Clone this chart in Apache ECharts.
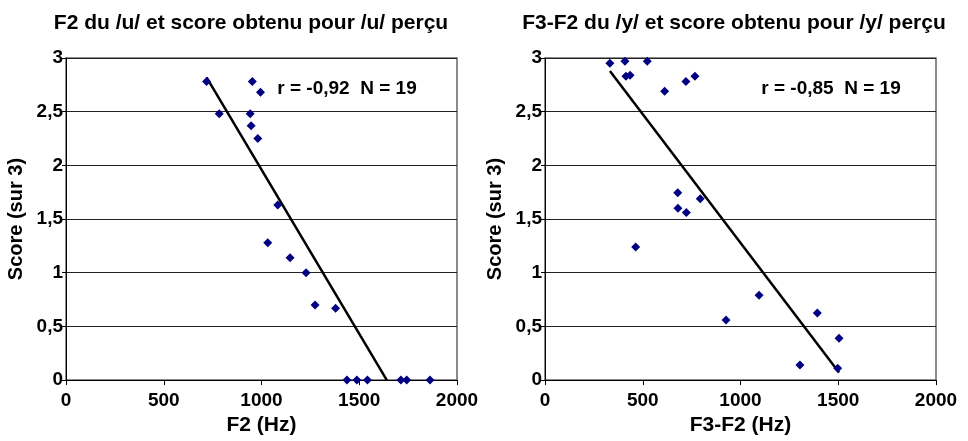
<!DOCTYPE html>
<html>
<head>
<meta charset="utf-8">
<script src="https://cdn.jsdelivr.net/npm/echarts@6/dist/echarts.min.js"></script>
<style>
html,body{margin:0;padding:0;background:#fff;}
#c{width:968px;height:441px;}
</style>
</head>
<body>
<div id="c"></div>
<script>
// Left chart: F2 of /u/ vs score
var f2Hz = [719, 784, 953, 995, 942, 947, 981, 1083, 1032, 1146, 1228, 1274, 1379, 1437, 1488, 1542, 1713, 1743, 1862];
var f2Score = [2.78, 2.48, 2.78, 2.68, 2.48, 2.37, 2.25, 1.63, 1.28, 1.14, 1.00, 0.70, 0.67, 0, 0, 0, 0, 0, 0];
var f2TrendX = [719, 1641];
var f2TrendY = [2.82, 0];

// Right chart: F3-F2 of /y/ vs score
var f32Hz = [332, 409, 523, 414, 435, 721, 767, 612, 679, 794, 680, 723, 464, 1095, 926, 1393, 1504, 1304, 1497];
var f32Score = [2.95, 2.97, 2.97, 2.83, 2.84, 2.78, 2.83, 2.69, 1.745, 1.69, 1.60, 1.56, 1.24, 0.79, 0.56, 0.625, 0.39, 0.14, 0.11];
var f32TrendX = [332, 1504];
var f32TrendY = [2.88, 0.07];

var titles = ['F2 du /u/ et score obtenu pour /u/ perçu', 'F3-F2 du /y/ et score obtenu pour /y/ perçu'];
var notes = ['r = -0,92  N = 19', 'r = -0,85  N = 19'];
var xNames = ['F2 (Hz)', 'F3-F2 (Hz)'];
var yName = 'Score (sur 3)';

function zip(a, b) { return a.map(function (v, i) { return [v, b[i]]; }); }

var FONT = '"Liberation Sans", Arial, sans-serif';
var grids = [
  {left: 66, top: 58, width: 391, height: 325},
  {left: 545, top: 58, width: 391, height: 325}
];

function mkX(i) {
  return {
    gridIndex: i, type: 'value', min: 0, max: 2000, interval: 500,
    name: xNames[i], nameLocation: 'middle', nameGap: 31,
    nameTextStyle: {fontFamily: FONT, fontWeight: 'bold', fontSize: 21, color: '#000'},
    axisLine: {show: true, lineStyle: {color: '#000', width: 1}},
    axisTick: {show: true, length: 5, lineStyle: {color: '#000'}},
    axisLabel: {margin: 11, fontFamily: FONT, fontWeight: 'bold', fontSize: 19, color: '#000',
      formatter: function (v) { return String(v); }},
    splitLine: {show: false}
  };
}
function mkY(i) {
  return {
    gridIndex: i, type: 'value', min: 0, max: 3, interval: 0.5,
    name: yName, nameLocation: 'middle', nameGap: 40,
    nameTextStyle: {fontFamily: FONT, fontWeight: 'bold', fontSize: 20, color: '#000'},
    axisLine: {show: true, lineStyle: {color: '#000', width: 1}},
    axisTick: {show: true, length: 4, lineStyle: {color: '#000'}},
    axisLabel: {margin: 3, fontFamily: FONT, fontWeight: 'bold', fontSize: 19, color: '#000',
      formatter: function (v) { return String(v).replace('.', ','); }},
    splitLine: {show: true, lineStyle: {color: '#222', width: 1}}
  };
}

var chart = echarts.init(document.getElementById('c'), null, {renderer: 'canvas'});
chart.setOption({
  animation: false,
  backgroundColor: '#fff',
  title: [
    {text: titles[0], left: 246, top: 8, textAlign: 'center',
      textStyle: {fontFamily: FONT, fontWeight: 'bold', fontSize: 21, color: '#000'}},
    {text: titles[1], left: 729, top: 8, textAlign: 'center',
      textStyle: {fontFamily: FONT, fontWeight: 'bold', fontSize: 21, color: '#000'}},
    {text: notes[0], left: 342, top: 74, textAlign: 'center',
      textStyle: {fontFamily: FONT, fontWeight: 'bold', fontSize: 19, color: '#000'}},
    {text: notes[1], left: 826, top: 74, textAlign: 'center',
      textStyle: {fontFamily: FONT, fontWeight: 'bold', fontSize: 19, color: '#000'}}
  ],
  grid: grids.map(function (g) {
    return Object.assign({show: true, borderColor: '#666', borderWidth: 1.5, backgroundColor: '#fff', containLabel: false}, g);
  }),
  xAxis: [mkX(0), mkX(1)],
  yAxis: [mkY(0), mkY(1)],
  series: [
    {type: 'line', xAxisIndex: 0, yAxisIndex: 0, data: zip(f2TrendX, f2TrendY), symbol: 'none',
      lineStyle: {color: '#000', width: 2.5}, z: 3},
    {type: 'scatter', xAxisIndex: 0, yAxisIndex: 0, data: zip(f2Hz, f2Score), symbol: 'diamond', symbolSize: 9,
      itemStyle: {color: '#000080', opacity: 1}, z: 4},
    {type: 'line', xAxisIndex: 1, yAxisIndex: 1, data: zip(f32TrendX, f32TrendY), symbol: 'none',
      lineStyle: {color: '#000', width: 2.5}, z: 3},
    {type: 'scatter', xAxisIndex: 1, yAxisIndex: 1, data: zip(f32Hz, f32Score), symbol: 'diamond', symbolSize: 9,
      itemStyle: {color: '#000080', opacity: 1}, z: 4}
  ]
});
</script>
</body>
</html>
